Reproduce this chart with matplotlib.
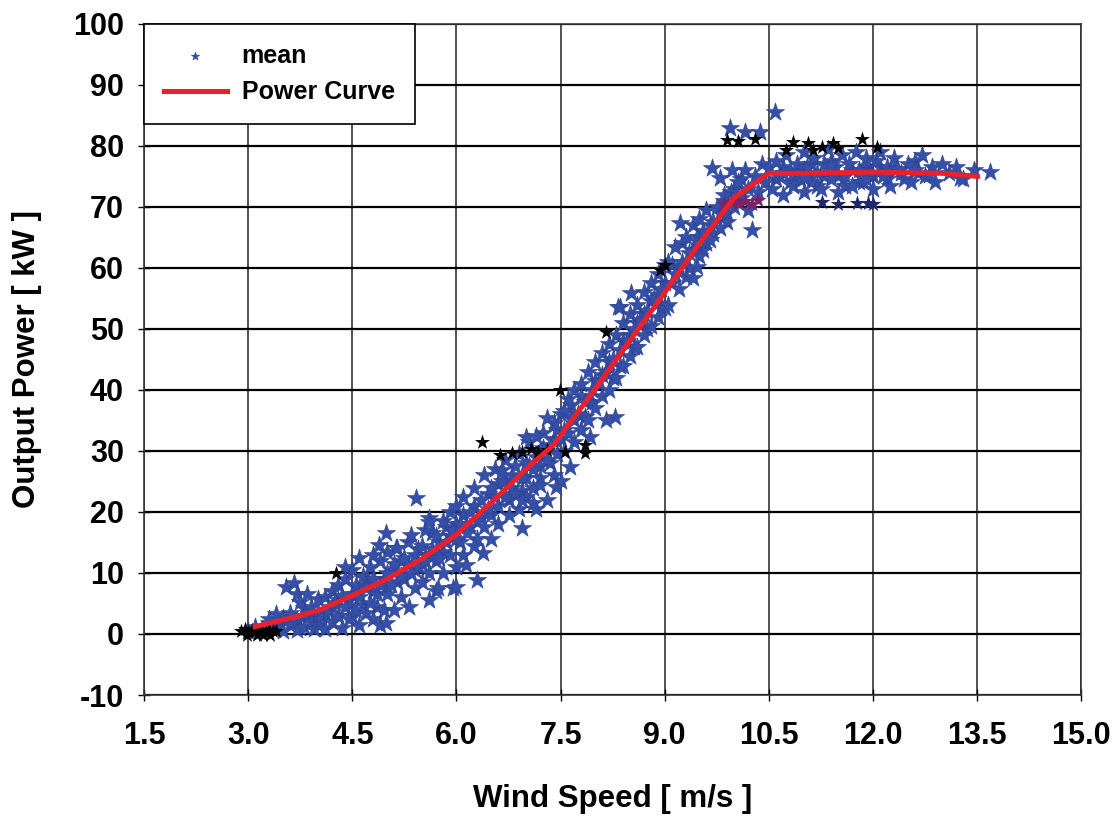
import matplotlib.pyplot as plt

plt.rcParams['font.family'] = ['Liberation Sans', 'DejaVu Sans']
plt.rcParams['font.weight'] = 'bold'
plt.rcParams['axes.unicode_minus'] = False

# power curve
curve_x = [3.1, 3.5, 4.0, 4.5, 5.0, 5.5, 6.0, 6.5, 7.0, 7.4, 8.0, 8.5, 9.0, 9.5, 9.8, 10.0, 10.5, 11.0, 12.0, 13.0, 13.5]
curve_y = [1.2, 2.3, 3.8, 6.3, 9.0, 12.3, 16.3, 21.5, 27.0, 31.0, 40.2, 48.1, 56.0, 64.0, 68.5, 71.5, 75.5, 75.5, 75.7, 75.5, 75.0]

# blue "mean" stars
mean_x = [3.0, 3.1, 3.2, 3.3, 3.4, 3.5, 3.5, 3.6, 3.6, 3.7, 3.7, 3.8, 3.8, 3.9, 3.9, 3.95, 4.0, 4.0, 4.0,
          3.3, 3.4, 3.55, 3.66, 3.7, 3.75, 3.85,
          4.05, 4.1, 4.1, 4.15, 4.2, 4.2, 4.25, 4.3, 4.3, 4.35, 4.35, 4.4, 4.4, 4.45, 4.5, 4.5, 4.55, 4.55,
          4.6, 4.6, 4.65, 4.7, 4.7, 4.75, 4.75, 4.8, 4.8, 4.85, 4.9, 4.9, 4.95, 5.0, 5.0, 5.0, 4.6, 4.8,
          4.4, 4.9, 4.99, 4.89, 5.13, 4.99,
          5.05, 5.1, 5.1, 5.15, 5.2, 5.2, 5.25, 5.3, 5.32, 5.35, 5.35, 5.4, 5.4, 5.42, 5.45, 5.5, 5.5, 5.55,
          5.55, 5.6, 5.6, 5.65, 5.7, 5.7, 5.75, 5.8, 5.8, 5.85, 5.9, 5.9, 5.95, 6.0, 6.0, 6.0, 5.6, 5.73,
          5.95, 5.61, 6.0,
          6.05, 6.1, 6.1, 6.14, 6.15, 6.2, 6.25, 6.25, 6.3, 6.29, 6.35, 6.38, 6.4, 6.4, 6.45, 6.5, 6.5,
          6.55, 6.6, 6.6, 6.65, 6.7, 6.7, 6.75, 6.8, 6.85, 6.9, 6.9, 6.94, 6.95, 7.0, 7.0, 7.05, 7.1, 7.1,
          7.15, 7.2, 7.2, 7.25, 7.3, 7.3, 7.35, 7.4, 7.4, 7.45, 7.5, 7.5, 7.5, 6.65, 7.2, 6.95, 7.1, 7.44,
          7.0, 7.15, 7.31,
          7.55, 7.55, 7.6, 7.6, 7.63, 7.65, 7.7, 7.7, 7.75, 7.8, 7.8, 7.85, 7.9, 7.9, 7.95, 8.0, 8.0, 8.05,
          8.1, 8.1, 8.15, 8.2, 8.2, 8.25, 8.3, 8.3, 8.35, 8.4, 8.4, 8.45, 8.5, 8.5, 8.55, 8.6, 8.6, 8.65,
          8.7, 8.7, 8.75, 8.8, 8.8, 8.85, 8.9, 8.9, 8.95, 9.0, 9.0, 8.28, 8.16, 7.92, 8.35, 8.52, 8.32,
          9.05, 9.05, 9.1, 9.15, 9.15, 9.2, 9.22, 9.25, 9.3, 9.3, 9.35, 9.4, 9.4, 9.45, 9.46, 9.5, 9.5,
          9.55, 9.6, 9.6, 9.65, 9.7, 9.75, 9.8, 9.85, 9.9, 9.95, 10.0, 10.05, 10.1, 10.15, 10.2, 10.26,
          10.3, 10.35, 10.4, 10.45, 10.5, 9.94, 10.15, 10.37, 10.59, 9.68, 9.97, 9.8, 9.85,
          10.55, 10.6, 10.65, 10.7, 10.75, 10.8, 10.85, 10.9, 10.95, 11.0, 11.0, 11.05, 11.1, 11.15, 11.2,
          11.25, 11.3, 11.35, 11.4, 11.45, 11.5, 11.55, 11.6, 11.65, 11.7, 11.75, 11.8, 11.85, 11.9,
          11.95, 12.0, 12.05, 12.1, 12.15, 12.2, 12.25, 12.3, 12.4, 12.5, 12.55, 12.6, 12.7, 12.75, 12.85,
          12.9, 13.0, 13.1, 13.2, 13.3, 13.45, 13.69, 10.7, 11.0, 11.4, 11.9, 12.35, 12.8, 13.25]
mean_y = [0.5, 1.2, 0.8, 1.8, 1.0, 2.6, 0.5, 1.5, 3.5, 2.2, 0.6, 3.0, 1.2, 4.5, 2.0, 0.8, 3.5, 5.8, 1.5,
          2.5, 3.2, 7.7, 8.4, 6.5, 5.2, 6.5,
          2.5, 6.0, 0.8, 4.0, 7.0, 2.0, 5.0, 3.0, 8.0, 6.2, 1.0, 4.5, 9.0, 2.5, 6.5, 10.5, 4.0, 8.0,
          1.5, 6.0, 9.5, 3.5, 7.5, 11.0, 5.0, 9.0, 2.5, 6.5, 12.0, 8.0, 4.0, 10.0, 13.5, 6.5, 12.5, 13.0,
          11.0, 1.5, 16.6, 14.6, 14.1, 1.8,
          8.0, 11.5, 4.0, 14.1, 9.5, 6.0, 12.5, 15.0, 4.4, 10.0, 16.2, 7.5, 13.0, 22.3, 11.0, 14.5, 8.5, 17.0,
          12.0, 10.0, 19.0, 14.0, 7.0, 16.0, 12.5, 18.5, 10.0, 15.0, 20.0, 13.0, 17.0, 11.0, 15.5, 21.0, 5.5, 7.5,
          7.5, 18.4, 7.7,
          18.0, 13.0, 22.5, 11.3, 16.5, 20.0, 24.0, 14.5, 18.5, 8.9, 22.0, 13.2, 26.0, 17.5, 20.5, 24.0, 15.5,
          27.0, 21.0, 18.0, 25.0, 22.5, 28.5, 19.5, 26.0, 23.0, 29.5, 20.5, 17.4, 25.5, 28.0, 22.5, 31.5, 24.0, 27.0,
          20.5, 30.0, 25.5, 33.0, 22.0, 28.5, 31.0, 26.0, 34.5, 29.5, 36.0, 32.0, 25.0, 26.9, 24.4, 22.0, 21.5, 24.1,
          32.3, 32.5, 35.4,
          30.0, 36.5, 33.0, 38.5, 27.4, 35.5, 31.5, 40.0, 36.0, 33.5, 41.0, 38.0, 35.0, 43.0, 40.0, 37.0, 44.5, 41.5,
          39.0, 46.0, 43.0, 40.0, 47.5, 45.0, 42.0, 49.0, 46.5, 44.0, 51.0, 48.0, 45.5, 52.5, 50.0, 47.0, 54.0, 51.5,
          49.0, 56.0, 53.0, 50.5, 57.5, 55.0, 52.0, 59.0, 56.5, 53.5, 60.5, 35.6, 35.0, 32.3, 53.6, 55.9, 53.6,
          54.0, 61.0, 57.5, 59.0, 63.5, 56.5, 67.4, 61.0, 58.5, 65.0, 62.5, 58.4, 67.0, 64.5, 60.2, 62.0, 68.0,
          66.0, 64.0, 69.5, 64.6, 67.5, 70.0, 66.5, 71.0, 69.0, 72.5, 70.0, 74.0, 71.5, 76.0, 73.0, 66.2,
          75.0, 72.5, 77.0, 74.0, 76.5, 82.9, 82.3, 82.3, 85.6, 76.4, 76.1, 74.8, 72.0,
          73.0, 77.5, 75.0, 72.0, 78.5, 76.0, 73.5, 77.0, 74.5, 79.0, 72.5, 76.5, 74.0, 78.0, 75.5,
          73.0, 77.0, 79.5, 74.5, 76.5, 72.5, 78.5, 75.0, 77.0, 73.5, 79.0, 76.0, 74.0, 78.0,
          75.5, 73.0, 77.5, 79.0, 75.0, 76.5, 73.5, 78.0, 75.5, 77.0, 74.0, 76.0, 78.5, 75.0, 76.5,
          74.0, 77.0, 75.5, 76.5, 74.5, 76.0, 75.7, 75.5, 74.8, 76.8, 74.6, 76.2, 75.2, 74.8]

# more stars filling the dense core of the band
band_x = [3.45, 3.6, 3.75, 3.8, 3.9, 4.0, 4.1, 4.2, 4.3, 4.45, 4.5, 4.55, 4.65, 4.7, 4.8, 4.85, 4.95, 5.0,
          5.05, 5.15, 5.2, 5.25, 5.3, 5.4, 5.45, 5.5, 5.6, 5.65, 5.7, 5.75, 5.8, 5.85, 5.9, 6.0, 6.05, 6.1,
          6.2, 6.25, 6.3, 6.35, 6.45, 6.5, 6.55, 6.6, 6.7, 6.75, 6.8, 6.85, 6.95, 7.0, 7.05, 7.15, 7.2, 7.25,
          7.35, 7.4, 7.45,
          7.55, 7.65, 7.7, 7.8, 7.85, 7.95, 8.0, 8.1, 8.2, 8.25, 8.35, 8.4, 8.5, 8.55, 8.6, 8.7, 8.75, 8.8,
          8.9, 8.95, 9.0, 9.1, 9.2, 9.25, 9.35, 9.4, 9.5, 9.55, 9.65, 9.7, 9.8, 9.9, 10.0, 10.1, 10.2,
          10.6, 10.7, 10.8, 10.9, 11.0, 11.1, 11.2, 11.3, 11.4, 11.5, 11.6, 11.7, 11.8, 11.9, 12.0, 12.1,
          12.2, 12.3, 12.45, 12.6, 12.65]
band_y = [1.5, 2.8, 1.0, 4.2, 3.2, 2.5, 3.2, 4.5, 5.5, 5.5, 3.0, 6.5, 4.8, 9.0, 7.0, 4.5, 9.0, 7.5,
          10.5, 8.5, 12.0, 9.0, 11.5, 10.5, 14.0, 11.5, 13.0, 16.5, 12.0, 15.0, 13.5, 17.5, 16.0, 18.0, 15.0, 19.5,
          17.5, 21.0, 15.5, 19.0, 23.0, 19.5, 22.5, 24.5, 25.0, 22.0, 24.0, 27.5, 23.5, 25.5, 27.5, 29.0, 27.5, 30.5,
          28.0, 32.0, 33.5,
          33.5, 37.5, 35.0, 39.0, 35.5, 38.0, 41.5, 42.5, 44.5, 42.0, 44.0, 48.0, 49.0, 47.0, 51.0, 52.5, 50.0, 54.5,
          55.5, 53.5, 57.5, 60.5, 60.0, 64.0, 60.0, 63.0, 65.0, 63.0, 67.0, 65.5, 69.0, 67.5, 73.0, 74.5, 69.5,
          74.5, 76.5, 74.0, 75.5, 76.0, 77.0, 73.5, 75.0, 77.5, 75.0, 73.5, 76.0, 74.0, 76.5, 75.0, 76.5,
          74.5, 76.0, 74.5, 77.5, 75.5]

# black stars (flagged points)
black_x = [2.9, 2.95, 3.0, 3.05, 3.1, 3.15, 3.2, 3.25, 3.3, 3.35, 3.4, 2.98, 3.12, 3.22, 3.32, 4.27,
           6.37, 6.62, 6.8, 6.94, 7.08, 7.17, 7.3, 7.56, 7.85, 7.85, 7.49, 8.16, 8.93, 9.0,
           10.74, 10.85, 11.06, 11.13, 11.27, 11.43, 11.5, 11.84, 12.06, 9.9, 10.05, 10.3]
black_y = [0.5, 0.8, 0.3, 0.6, 0.4, 0.7, 0.5, 0.4, 0.6, 0.5, 0.5, -0.2, -0.1, -0.2, -0.1, 10.0,
           31.5, 29.3, 29.6, 29.8, 30.4, 29.9, 30.2, 29.8, 29.7, 31.0, 40.0, 49.5, 59.7, 60.5,
           79.3, 80.6, 80.5, 79.4, 79.8, 80.5, 79.6, 81.1, 79.8, 81.0, 80.8, 81.2]

# purple / navy stars around 70 kW
purple_x = [9.85, 9.95, 10.05, 10.15, 10.25, 10.35]
purple_y = [70.5, 70.8, 70.6, 71.0, 70.5, 71.2]
navy_x = [11.27, 11.77, 11.93, 11.5, 12.0]
navy_y = [70.8, 70.6, 70.6, 70.4, 70.5]

x_ticks = [1.5, 3.0, 4.5, 6.0, 7.5, 9.0, 10.5, 12.0, 13.5, 15.0]
y_ticks = [-10, 0, 10, 20, 30, 40, 50, 60, 70, 80, 90, 100]

fig = plt.figure(figsize=(11.17, 8.22), dpi=100)
ax = fig.add_axes([0.129, 0.1545, 0.839, 0.8165])

star_blue = '#3550a8'
ax.scatter(band_x, band_y, marker='*', s=190, color=star_blue, edgecolors='#2a3d8c',
           linewidths=0.4, zorder=3)
ax.scatter(mean_x, mean_y, marker='*', s=190, color=star_blue, edgecolors='#2a3d8c',
           linewidths=0.4, zorder=3, label='mean')
ax.scatter(navy_x, navy_y, marker='*', s=140, color='#1f2a6e', linewidths=0, zorder=3)
ax.scatter(black_x, black_y, marker='*', s=130, color='black', linewidths=0, zorder=4)
ax.scatter(purple_x, purple_y, marker='*', s=150, color='#7a2366', linewidths=0, zorder=4)
ax.plot(curve_x, curve_y, color='#e8212b', lw=3.6, zorder=5, label='Power Curve')

ax.set_xlim(1.5, 15.0)
ax.set_ylim(-10, 100)
ax.set_xticks(x_ticks)
ax.set_yticks(y_ticks)
ax.set_xticklabels(['%.1f' % v for v in x_ticks])
ax.grid(True, axis='y', color='black', lw=1.6, zorder=1)
ax.grid(True, axis='x', color='#222222', lw=1.1, zorder=1)
ax.tick_params(direction='inout', length=9, width=1, labelsize=22, pad=10)
ax.tick_params(axis='x', pad=14)
for s in ax.spines.values():
    s.set_color('#333333')
    s.set_linewidth(1.2)

ax.set_xlabel('Wind Speed [ m/s ]', fontsize=22.5, fontweight='bold', labelpad=24)
ax.set_ylabel('Output Power [ kW ]', fontsize=22.5, fontweight='bold', labelpad=22)

leg = ax.legend(loc='upper left', borderaxespad=0, fancybox=False, framealpha=1,
                edgecolor='black', fontsize=18, markerscale=0.45, handlelength=2.5,
                borderpad=0.8, labelspacing=0.5, handletextpad=0.6)
leg.get_frame().set_linewidth(1.2)
leg.set_zorder(10)

fig.savefig('out.png', dpi=100)
